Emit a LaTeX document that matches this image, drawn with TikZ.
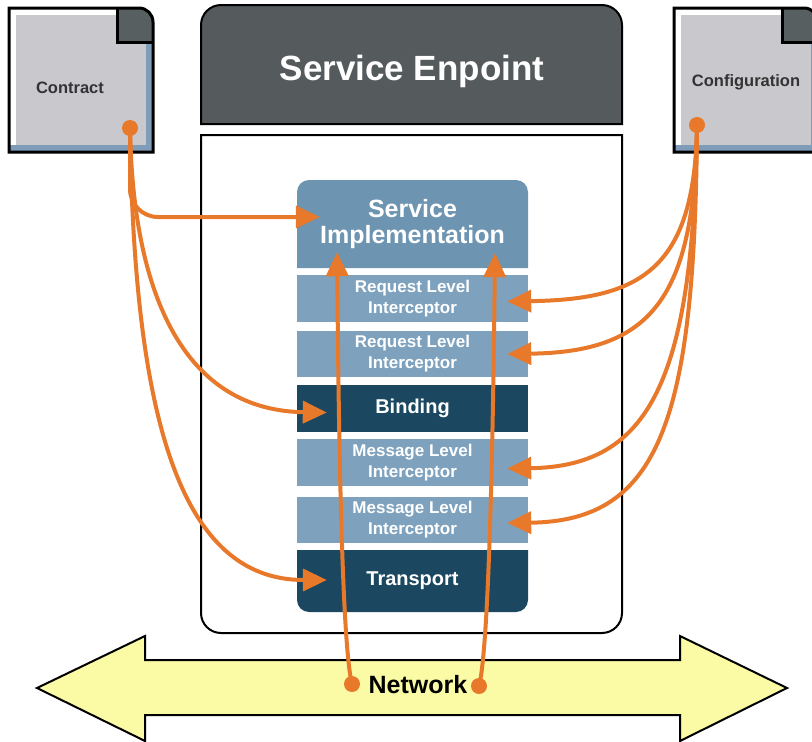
\documentclass[tikz,border=0pt]{standalone}
\usepackage{fontspec}
\setmainfont{Liberation Sans}
\usetikzlibrary{arrows.meta,calc}

\definecolor{docgray}{HTML}{C9C8CD}
\definecolor{docblue}{HTML}{7F9DB8}
\definecolor{foldgray}{HTML}{575F60}
\definecolor{headgray}{HTML}{555B5D}
\definecolor{implblue}{HTML}{6D94B1}
\definecolor{icptblue}{HTML}{7EA2BE}
\definecolor{darkteal}{HTML}{1B4860}
\definecolor{flowor}{HTML}{E8792B}
\definecolor{netyellow}{HTML}{FBFBA6}

\tikzset{
  layer/.style={minimum width=231pt, inner sep=0pt, text=white, align=center,
    font=\bfseries\fontsize{17}{21}\selectfont},
  flow/.style={draw=flowor, line width=4pt, -{Triangle[length=24pt,width=22pt]}},
  doclabel/.style={text=black!80, font=\bfseries\fontsize{16.5}{20}\selectfont},
  paper/.pic={
    \fill[docblue] (0,0) -- (130,0) .. controls (137.7,0) and (144,6.3) .. (144,14) -- (144,144) -- (0,144) -- cycle;
    \fill[white] (0,0) rectangle (137,137);
    \fill[docgray] (7,7) rectangle (137,137);
    \fill[foldgray] (108,0) -- (130,0) .. controls (137.7,0) and (144,6.3) .. (144,14) -- (144,34) -- (108,34) -- cycle;
    \draw[line width=3pt] (108,0) |- (144,34);
    \draw[line width=3pt] (0,0) -- (130,0) .. controls (137.7,0) and (144,6.3) .. (144,14) -- (144,144) -- (0,144) -- cycle;
  }
}

\begin{document}
\begin{tikzpicture}[x=1pt,y=-1pt]
  \clip (0,0) rectangle (812,742);
  \fill[white] (0,0) rectangle (812,742);

  % contract and configuration
  \pic at (9,8) {paper};
  \pic at (674,8) {paper};
  \node[doclabel] (contract) at (70,88) {Contract};
  \node[doclabel] (config) at (746,82) {Configuration};

  % endpoint
  \filldraw[fill=headgray, line width=2pt] (201,124) -- (201,25) .. controls (201,14) and (210,5) .. (221,5) -- (602,5) .. controls (613,5) and (622,14) .. (622,25) -- (622,124) -- cycle;
  \node[text=white, font=\bfseries\fontsize{35}{40}\selectfont] (title) at (412,71) {Service Enpoint};
  \filldraw[fill=white, line width=2pt] (201,135) -- (622,135) -- (622,613) .. controls (622,624) and (613,633) .. (602,633) -- (221,633) .. controls (210,633) and (201,624) .. (201,613) -- cycle;

  % stack
  \fill[implblue] (297,268) -- (297,192) .. controls (297,185.4) and (302.4,180) .. (309,180) -- (516,180) .. controls (522.6,180) and (528,185.4) .. (528,192) -- (528,268) -- cycle;
  \fill[darkteal] (297,550) -- (528,550) -- (528,600) .. controls (528,606.6) and (522.6,612) .. (516,612) -- (309,612) .. controls (302.4,612) and (297,606.6) .. (297,600) -- cycle;
  \node[layer, minimum height=88pt, font=\bfseries\fontsize{25}{26}\selectfont] (impl) at (412.5,224) {Service\\Implementation};
  \node[layer, fill=icptblue, minimum height=47pt] (req1) at (412.5,298.5) {Request Level\\Interceptor};
  \node[layer, fill=icptblue, minimum height=46pt] (req2) at (412.5,354) {Request Level\\Interceptor};
  \node[layer, fill=darkteal, minimum height=47pt, font=\bfseries\fontsize{20}{24}\selectfont] (bind) at (412.5,408.5) {Binding};
  \node[layer, fill=icptblue, minimum height=47pt] (msg1) at (412.5,462.5) {Message Level\\Interceptor};
  \node[layer, fill=icptblue, minimum height=46pt] (msg2) at (412.5,520) {Message Level\\Interceptor};
  \node[layer, minimum height=62pt, font=\bfseries\fontsize{20}{24}\selectfont] (trans) at (412.5,581) {Transport};

  % network
  \filldraw[fill=netyellow, line width=2pt] (37,688) -- (145,636) -- (145,660) -- (680,660) -- (680,636) -- (787,688) -- (680,741) -- (680,715) -- (145,715) -- (145,741) -- cycle;
  \node[font=\bfseries\fontsize{25}{30}\selectfont] (net) at (418,685) {Network};

  \coordinate (cdot) at (130,128);
  \coordinate (gdot) at (697,125);
  \coordinate (ndotl) at (352,684);
  \coordinate (ndotr) at (479,686);

  % from the contract
  \draw[flow, rounded corners=28pt] (cdot) |- ($(impl.west)+(23,-7)$);
  \draw[flow] (cdot) .. controls +(3,172) and +(-140,-2) .. ($(bind.west)+(30,4)$);
  \draw[flow] (cdot) .. controls +(4,295) and +(-145,0) .. ($(trans.west)+(30,-1)$);

  % from the configuration
  \draw[flow] (gdot) .. controls +(-2,145) and +(133,-2) .. ($(req1.east)+(-21,3)$);
  \draw[flow] (gdot) .. controls +(-2,175) and +(143,-2) .. ($(req2.east)+(-21,0)$);
  \draw[flow] (gdot) .. controls +(-4,255) and +(143,-2) .. ($(msg1.east)+(-21,6)$);
  \draw[flow] (gdot) .. controls +(-2,295) and +(153,-2) .. ($(msg2.east)+(-21,3)$);

  % up from the network
  \draw[flow] (ndotl) .. controls +(-12,-45) and +(1,90) .. ($(impl.south)+(-75.5,-16)$);
  \draw[flow] (ndotr) .. controls +(12,-45) and +(-1,90) .. ($(impl.south)+(82.5,-15)$);

  \foreach \d in {cdot,gdot,ndotl,ndotr}
    \fill[flowor] (\d) circle (8pt);
\end{tikzpicture}
\end{document}
